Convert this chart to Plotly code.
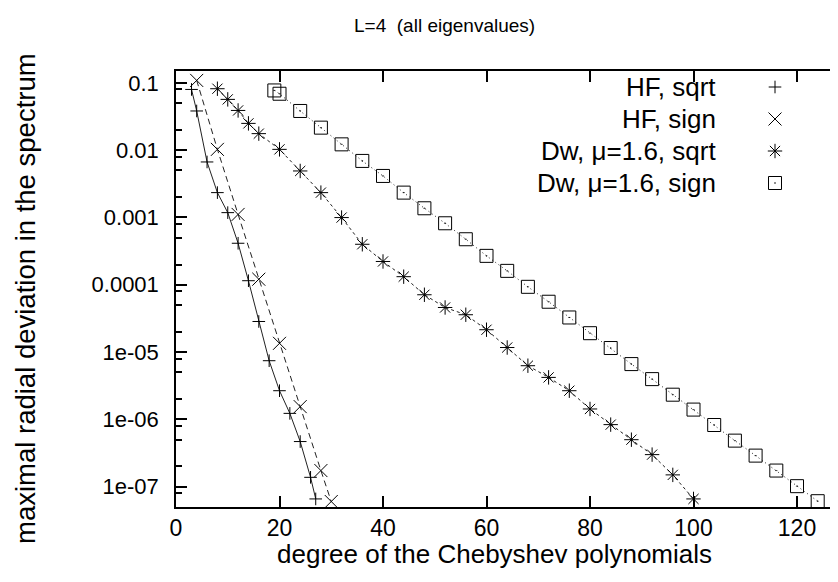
import plotly.graph_objects as go

# ---- data ----
hf_sqrt_x = [3, 4, 6, 8, 10, 12, 14, 16, 18, 20, 22, 24, 26, 27]
hf_sqrt_y = [0.0798, 0.0382, 0.00668, 0.00234, 0.00118, 4.14e-4, 1.15e-4,
             2.85e-5, 7.45e-6, 2.67e-6, 1.23e-6, 4.69e-7, 1.38e-7, 6.59e-8]

hf_sign_x = [4, 8, 12, 16, 20, 24, 28, 30]
hf_sign_y = [0.1087, 0.01028, 1.11e-3, 1.21e-4, 1.35e-5, 1.55e-6, 1.74e-7, 6.03e-8]

dw_sqrt_x = [8, 10, 12, 14, 16, 20, 24, 28, 32, 36, 40, 44, 48, 52, 56, 60,
             64, 68, 72, 76, 80, 84, 88, 92, 96, 100]
dw_sqrt_y = [0.0818, 0.0568, 0.0389, 0.025, 0.0176, 0.01028, 4.91e-3, 2.34e-3,
             9.97e-4, 4.0e-4, 2.22e-4, 1.32e-4, 7.11e-5, 4.6e-5, 3.59e-5, 2.15e-5,
             1.17e-5, 6.28e-6, 4.21e-6, 2.67e-6, 1.43e-6, 8.37e-7, 5.0e-7, 3.0e-7,
             1.5e-7, 6.59e-8]

dw_sign_x = [19, 20, 24, 28, 32, 36, 40, 44, 48, 52, 56, 60, 64, 68, 72, 76,
             80, 84, 88, 92, 96, 100, 104, 108, 112, 116, 120, 124]
dw_sign_y = [0.0771, 0.0689, 0.0382, 0.0216, 0.0122, 6.92e-3, 4.14e-3, 2.34e-3,
             1.37e-3, 8.2e-4, 4.75e-4, 2.69e-4, 1.61e-4, 9.33e-5, 5.6e-5, 3.27e-5,
             1.91e-5, 1.15e-5, 6.64e-6, 3.97e-6, 2.33e-6, 1.40e-6, 8.26e-7, 4.84e-7,
             2.9e-7, 1.74e-7, 1.02e-7, 6.1e-8]

series_names = ["HF, sqrt", "HF, sign", "Dw, \u03bc=1.6, sqrt", "Dw, \u03bc=1.6, sign"]

x_tickvals = [0, 20, 40, 60, 80, 100, 120]
y_tickvals = [1e-7, 1e-6, 1e-5, 1e-4, 1e-3, 1e-2, 1e-1]
y_ticktext = ["1e-07", "1e-06", "1e-05", "0.0001", "0.001", "0.01", "0.1"]
y_minor = [m * 10.0 ** e for e in range(-8, 0) for m in (2, 5, 8)]

title_text = "L=4  (all eigenvalues)"
x_title = "degree of the Chebyshev polynomials"
y_title = "maximal radial deviation in the spectrum"

# ---- styling ----
FONT = "Liberation Sans, Arial, sans-serif"
FS_TEXT = 26
FS_XTICK = 23
FS_YTICK = 22
W, H = 838, 582
L, R, T, B = 168, 0, 63, 83
PW, PH = W - L - R, H - T - B

styles = [
    dict(symbol="cross-thin-open", size=9, dash="solid"),
    dict(symbol="x-thin-open", size=13, dash="6px,4px"),
    dict(symbol="asterisk-open", size=12, dash="3px,3px"),
    dict(symbol="square-open-dot", size=13, dash="1px,3px"),
]
data = [(hf_sqrt_x, hf_sqrt_y), (hf_sign_x, hf_sign_y),
        (dw_sqrt_x, dw_sqrt_y), (dw_sign_x, dw_sign_y)]

fig = go.Figure()
for (xs, ys), st, name in zip(data, styles, series_names):
    fig.add_trace(go.Scatter(
        x=xs, y=ys, mode="lines+markers", name=name, showlegend=False,
        line=dict(color="#222222", width=1, dash=st["dash"]),
        marker=dict(symbol=st["symbol"], size=st["size"], color="black",
                    line=dict(color="black", width=1)),
        cliponaxis=False,
    ))

# gnuplot-style key: right-aligned text, symbol to the right of it
key_rows_px = [79, 111, 143, 175]
key_text_right_px = 710
key_symbol_px = 767
for name, st, ry in zip(series_names, styles, key_rows_px):
    fig.add_trace(go.Scatter(
        x=[key_symbol_px], y=[ry], xaxis="x2", yaxis="y3", mode="markers",
        showlegend=False, hoverinfo="skip", cliponaxis=False,
        marker=dict(symbol=st["symbol"], size=st["size"], color="black",
                    line=dict(color="black", width=1)),
    ))
    fig.add_annotation(x=key_text_right_px, y=ry, xref="x2", yref="y3",
                       text=name, showarrow=False, xanchor="right", yanchor="middle",
                       font=dict(family=FONT, size=FS_TEXT, color="black"))

axis_common = dict(showgrid=False, zeroline=False, color="black")

fig.update_layout(
    width=W, height=H,
    margin=dict(l=L, r=R, t=T, b=B, pad=0),
    paper_bgcolor="white", plot_bgcolor="white",
    font=dict(family=FONT, size=FS_XTICK, color="black"),
    showlegend=False,
    xaxis=dict(range=[0, PW / 5.175], tickmode="array", tickvals=x_tickvals,
               ticks="inside", ticklen=11, tickwidth=1.5, tickcolor="black",
               showline=True, linewidth=1.5, linecolor="black", mirror="allticks",
               ticklabelstandoff=0,
               tickfont=dict(family=FONT, size=FS_XTICK, color="black"), **axis_common),
    yaxis=dict(type="log", range=[-7.301, -0.824], tickmode="array",
               tickvals=y_tickvals, ticktext=y_ticktext,
               ticks="inside", ticklen=11, tickwidth=1.5, tickcolor="black",
               showline=True, linewidth=1.5, linecolor="black", mirror=False,
               ticklabelstandoff=11,
               minor=dict(tickmode="array", tickvals=y_minor, ticks="inside",
                          ticklen=6, tickwidth=1.5, tickcolor="black"),
               tickfont=dict(family=FONT, size=FS_YTICK, color="black"), **axis_common),
    yaxis2=dict(type="log", range=[-7.301, -0.824], overlaying="y", side="right",
                anchor="x", tickmode="array", tickvals=y_tickvals,
                showticklabels=False, ticks="inside", ticklen=11, tickwidth=1.5,
                tickcolor="black", showline=False,
                minor=dict(tickmode="array", tickvals=y_minor, ticks="inside",
                           ticklen=6, tickwidth=1.5, tickcolor="black"),
                **axis_common),
    xaxis2=dict(range=[L, W - R], overlaying="x", visible=False),
    yaxis3=dict(range=[T + PH, T], overlaying="y", visible=False),
)

# title and axis titles
fig.add_annotation(x=(436 - L) / PW, y=1 + (T - 17) / PH, xref="paper", yref="paper",
                   text=title_text, showarrow=False, xanchor="center", yanchor="middle",
                   font=dict(family=FONT, size=19, color="black"))
fig.add_annotation(x=(486 - L) / PW, y=-(546 - (T + PH)) / PH, xref="paper", yref="paper",
                   text=x_title, showarrow=False, xanchor="center", yanchor="middle",
                   font=dict(family=FONT, size=26, color="black"))
fig.add_annotation(x=-(L - 17) / PW, y=1 - (291 - T) / PH, xref="paper", yref="paper",
                   text=y_title, showarrow=False, xanchor="center", yanchor="middle",
                   textangle=-90, font=dict(family=FONT, size=27.5, color="black"))

fig.write_html("out.html")
